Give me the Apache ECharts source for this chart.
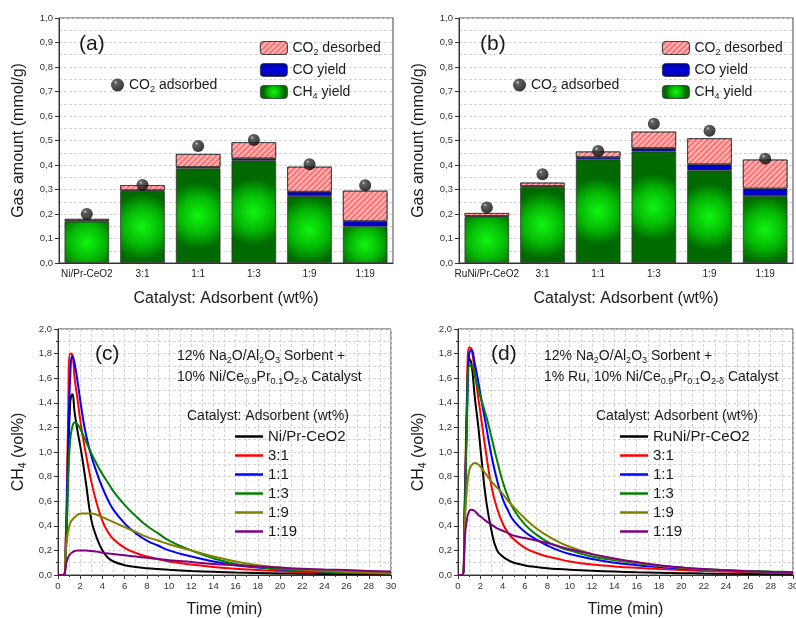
<!DOCTYPE html>
<html>
<head>
<meta charset="utf-8">
<script src="https://cdn.jsdelivr.net/npm/echarts@6/dist/echarts.min.js"></script>
<style>
  html, body { margin: 0; background: #fff; }
  #chart { width: 796px; height: 618px; }
</style>
</head>
<body>
<div id="chart"></div>
<script>
// bar panels (a) and (b)
const catsA = ['Ni/Pr-CeO2', '3:1', '1:1', '1:3', '1:9', '1:19'];
const ch4A = [0.169, 0.294, 0.386, 0.418, 0.273, 0.148];
const coA = [0.003, 0.003, 0.006, 0.009, 0.018, 0.023];
const desA = [0.008, 0.021, 0.053, 0.066, 0.102, 0.124];
const adsA = [0.2, 0.318, 0.478, 0.502, 0.403, 0.317];

const catsB = ['RuNi/Pr-CeO2', '3:1', '1:1', '1:3', '1:9', '1:19'];
const ch4B = [0.188, 0.311, 0.423, 0.455, 0.378, 0.274];
const coB = [0.004, 0.003, 0.009, 0.014, 0.025, 0.03];
const desB = [0.012, 0.014, 0.023, 0.067, 0.106, 0.118];
const adsB = [0.227, 0.362, 0.457, 0.568, 0.54, 0.426];

// line panels (c) and (d), CH4 vol% vs time (min)
const timeC = [0, 0.5, 0.7, 0.9, 1.1, 1.3, 1.5, 1.8, 2.1, 2.5, 3, 3.5, 4, 4.5, 5, 6, 7, 8, 9, 10, 12, 14, 16, 18, 20, 22, 24, 26, 28, 30];
const blackC = [0, 0, 0.15, 0.8, 1.4, 1.47, 1.32, 1.15, 1.0, 0.76, 0.45, 0.3, 0.2, 0.14, 0.11, 0.08, 0.065, 0.055, 0.048, 0.042, 0.033, 0.026, 0.02, 0.016, 0.013, 0.011, 0.009, 0.008, 0.007, 0.006];
const redC = [0, 0, 0.3, 1.2, 1.8, 1.79, 1.6, 1.4, 1.2, 0.99, 0.76, 0.58, 0.44, 0.35, 0.29, 0.22, 0.18, 0.15, 0.13, 0.11, 0.085, 0.065, 0.05, 0.04, 0.03, 0.025, 0.02, 0.017, 0.015, 0.012];
const blueC = [0, 0, 0.25, 1.0, 1.62, 1.78, 1.72, 1.55, 1.36, 1.15, 0.97, 0.83, 0.71, 0.61, 0.53, 0.42, 0.34, 0.28, 0.24, 0.2, 0.15, 0.11, 0.08, 0.06, 0.045, 0.035, 0.028, 0.022, 0.018, 0.015];
const greenC = [0, 0, 0.2, 0.75, 1.1, 1.21, 1.24, 1.22, 1.17, 1.09, 0.99, 0.9, 0.82, 0.75, 0.68, 0.57, 0.48, 0.4, 0.34, 0.28, 0.2, 0.135, 0.09, 0.065, 0.048, 0.036, 0.027, 0.021, 0.016, 0.012];
const oliveC = [0, 0, 0.2, 0.35, 0.42, 0.45, 0.47, 0.49, 0.5, 0.5, 0.5, 0.49, 0.47, 0.45, 0.43, 0.39, 0.35, 0.31, 0.28, 0.25, 0.2, 0.15, 0.11, 0.08, 0.06, 0.045, 0.035, 0.025, 0.02, 0.015];
const purpleC = [0, 0, 0.08, 0.14, 0.17, 0.185, 0.195, 0.2, 0.2, 0.2, 0.195, 0.19, 0.18, 0.175, 0.17, 0.16, 0.15, 0.14, 0.13, 0.12, 0.105, 0.09, 0.08, 0.07, 0.06, 0.05, 0.045, 0.04, 0.033, 0.028];

const timeD = [0, 0.4, 0.6, 0.8, 1.0, 1.2, 1.5, 1.8, 2.1, 2.5, 3, 3.5, 4, 4.5, 5, 6, 7, 8, 9, 10, 12, 14, 16, 18, 20, 22, 24, 26, 28, 30];
const blackD = [0, 0, 0.5, 1.3, 1.76, 1.72, 1.45, 1.22, 0.95, 0.62, 0.36, 0.2, 0.15, 0.12, 0.1, 0.078, 0.065, 0.055, 0.048, 0.043, 0.035, 0.028, 0.022, 0.018, 0.015, 0.012, 0.01, 0.008, 0.007, 0.006];
const redD = [0, 0, 0.6, 1.45, 1.85, 1.84, 1.65, 1.45, 1.26, 1.0, 0.72, 0.54, 0.42, 0.34, 0.29, 0.22, 0.18, 0.15, 0.13, 0.11, 0.085, 0.07, 0.058, 0.048, 0.04, 0.033, 0.028, 0.022, 0.018, 0.015];
const blueD = [0, 0, 0.5, 1.35, 1.8, 1.83, 1.72, 1.58, 1.42, 1.22, 0.97, 0.77, 0.62, 0.52, 0.44, 0.35, 0.29, 0.24, 0.2, 0.17, 0.13, 0.1, 0.08, 0.065, 0.052, 0.043, 0.035, 0.03, 0.025, 0.02];
const greenD = [0, 0, 0.45, 1.25, 1.7, 1.7, 1.62, 1.52, 1.42, 1.3, 1.12, 0.93, 0.76, 0.63, 0.53, 0.41, 0.33, 0.27, 0.23, 0.2, 0.15, 0.12, 0.095, 0.075, 0.06, 0.048, 0.04, 0.033, 0.028, 0.025];
const oliveD = [0, 0, 0.4, 0.7, 0.85, 0.89, 0.91, 0.9, 0.87, 0.82, 0.76, 0.71, 0.66, 0.6, 0.55, 0.46, 0.38, 0.32, 0.27, 0.23, 0.17, 0.13, 0.1, 0.075, 0.058, 0.045, 0.035, 0.028, 0.022, 0.018];
const purpleD = [0, 0, 0.3, 0.45, 0.52, 0.53, 0.52, 0.49, 0.47, 0.44, 0.41, 0.38, 0.36, 0.34, 0.32, 0.3, 0.28, 0.26, 0.235, 0.21, 0.17, 0.135, 0.105, 0.08, 0.062, 0.048, 0.038, 0.03, 0.025, 0.02];

const lineNamesC = ['Ni/Pr-CeO2', '3:1', '1:1', '1:3', '1:9', '1:19'];
const lineNamesD = ['RuNi/Pr-CeO2', '3:1', '1:1', '1:3', '1:9', '1:19'];
const lineColors = ['#000000', '#ff0000', '#0000ff', '#008000', '#808000', '#800080'];

const FONT = 'Liberation Sans, Arial, sans-serif';
const TXT = '#1a1a1a';

const comma = (v) => v.toFixed(1).replace('.', ',');

// rich text styles for subscripts
const richText = (size) => ({
  n: { fontSize: size, lineHeight: 18, color: TXT, fontFamily: FONT },
  s: { fontSize: size * 0.65, lineHeight: 9, padding: [9, 0, 0, 0], color: TXT, fontFamily: FONT },
});

const legendLabels = {
  'CO2 desorbed': '{n|CO}{s|2}{n| desorbed}',
  'CO yield': '{n|CO yield}',
  'CH4 yield': '{n|CH}{s|4}{n| yield}',
  'CO2 adsorbed': '{n|CO}{s|2}{n| adsorbed}',
};

const grids = [
  { left: 59, top: 18, width: 334, height: 245 },
  { left: 459, top: 18, width: 334, height: 245 },
  { left: 58, top: 329, width: 333, height: 246 },
  { left: 458, top: 329, width: 335, height: 246 },
].map((g) => ({ ...g, show: true, borderColor: '#444', borderWidth: 1, outerBoundsMode: 'none', containLabel: false }));

const dashed = { show: true, lineStyle: { color: '#d4d4d4', type: [3, 2], width: 1 } };

const barXAxis = (idx, cats) => ({
  type: 'category',
  gridIndex: idx,
  data: cats,
  axisLine: { lineStyle: { color: '#333' } },
  axisTick: { alignWithLabel: true, length: 4, lineStyle: { color: '#333' } },
  axisLabel: { interval: 0, fontSize: 10, color: TXT, fontFamily: FONT, margin: 6 },
  name: 'Catalyst: Adsorbent (wt%)',
  nameLocation: 'middle',
  nameGap: 28,
  nameTextStyle: { fontSize: 16, color: TXT, fontFamily: FONT },
});

const barYAxis = (idx) => ({
  type: 'value',
  gridIndex: idx,
  min: 0,
  max: 1,
  interval: 0.1,
  axisLine: { show: true, lineStyle: { color: '#333' } },
  axisTick: { show: true, length: 4, lineStyle: { color: '#333' } },
  axisLabel: { fontSize: 9.5, color: '#333', fontFamily: FONT, formatter: comma, margin: 6 },
  splitLine: dashed,
  minorTick: { show: false, splitNumber: 2 },
  minorSplitLine: dashed,
  name: 'Gas amount (mmol/g)',
  nameLocation: 'middle',
  nameGap: 32,
  nameTextStyle: { fontSize: 16, color: TXT, fontFamily: FONT },
});

const lineXAxis = (idx) => ({
  type: 'value',
  gridIndex: idx,
  min: 0,
  max: 30,
  interval: 2,
  axisLine: { lineStyle: { color: '#333' } },
  axisTick: { length: 4, lineStyle: { color: '#333' } },
  minorTick: { show: true, splitNumber: 2, length: 2, lineStyle: { color: '#333' } },
  axisLabel: { fontSize: 9.5, color: '#333', fontFamily: FONT, margin: 6 },
  splitLine: dashed,
  minorSplitLine: dashed,
  name: 'Time (min)',
  nameLocation: 'middle',
  nameGap: 27,
  nameTextStyle: { fontSize: 16, color: TXT, fontFamily: FONT },
});

const lineYAxis = (idx) => ({
  type: 'value',
  gridIndex: idx,
  min: 0,
  max: 2,
  interval: 0.2,
  axisLine: { show: true, lineStyle: { color: '#333' } },
  axisTick: { show: true, length: 4, lineStyle: { color: '#333' } },
  minorTick: { show: true, splitNumber: 2, length: 2, lineStyle: { color: '#333' } },
  axisLabel: { fontSize: 9.5, color: '#333', fontFamily: FONT, formatter: comma, margin: 6 },
  splitLine: dashed,
  minorSplitLine: dashed,
  name: '{n|CH}{s|4}{n| (vol%)}',
  nameLocation: 'middle',
  nameGap: 30,
  nameTextStyle: { rich: richText(16) },
});

const greenFill = {
  type: 'radial', x: 0.5, y: 0.5, r: 0.75,
  colorStops: [{ offset: 0, color: '#10f510' }, { offset: 0.55, color: '#05b905' }, { offset: 1, color: '#006a00' }],
};
const blueFill = {
  type: 'linear', x: 0, y: 0, x2: 0, y2: 1,
  colorStops: [{ offset: 0, color: '#00008a' }, { offset: 0.5, color: '#0000e6' }, { offset: 1, color: '#00008a' }],
};
const ballFill = {
  type: 'radial', x: 0.36, y: 0.3, r: 0.75,
  colorStops: [{ offset: 0, color: '#d0d0d0' }, { offset: 0.18, color: '#3a3a3a' }, { offset: 1, color: '#000' }],
};
const hatch = {
  color: '#ff7070',
  decal: { symbol: 'rect', dashArrayX: [1, 0], dashArrayY: [2, 2], rotation: -Math.PI / 4, color: 'rgba(255,255,255,0.5)' },
};

const barSeries = (idx, ch4, co, des, ads) => {
  const border = { borderColor: '#333', borderWidth: 0.8 };
  const base = { type: 'bar', stack: 'p' + idx, xAxisIndex: idx, yAxisIndex: idx, barWidth: '80%' };
  return [
    { ...base, name: 'CH4 yield', data: ch4, itemStyle: { color: greenFill, ...border } },
    { ...base, name: 'CO yield', data: co, itemStyle: { color: blueFill, ...border } },
    { ...base, name: 'CO2 desorbed', data: des, itemStyle: { ...hatch, ...border } },
    {
      type: 'scatter', name: 'CO2 adsorbed', xAxisIndex: idx, yAxisIndex: idx, data: ads,
      symbolSize: 12, itemStyle: { color: ballFill }, z: 5,
    },
  ];
};

const lineSeries = (idx, names, times, sets) => sets.map((vals, i) => ({
  type: 'line',
  name: names[i],
  xAxisIndex: idx,
  yAxisIndex: idx,
  showSymbol: false,
  symbol: 'none',
  smooth: 0.5,
  lineStyle: { color: lineColors[i], width: 2 },
  itemStyle: { color: lineColors[i] },
  data: times.map((t, j) => [t, vals[j]]),
}));

const barLegend = (left, top) => ({
  data: ['CO2 desorbed', 'CO yield', 'CH4 yield'],
  left, top,
  orient: 'vertical',
  itemWidth: 27,
  itemHeight: 13,
  itemGap: 6,
  selectedMode: false,
  itemStyle: { borderColor: '#333', borderWidth: 0.8 },
  formatter: (n) => legendLabels[n],
  textStyle: { rich: richText(14) },
});

const dotLegend = (left, top) => ({
  data: ['CO2 adsorbed'],
  left, top,
  icon: 'circle',
  itemWidth: 13,
  itemHeight: 13,
  selectedMode: false,
  formatter: (n) => legendLabels[n],
  textStyle: { rich: richText(14) },
});

const lineLegend = (names, left, top) => ({
  data: names,
  left, top,
  orient: 'vertical',
  icon: 'rect',
  itemWidth: 28,
  itemHeight: 2.5,
  itemGap: 4,
  selectedMode: false,
  textStyle: { fontSize: 15, color: TXT, fontFamily: FONT, lineHeight: 14 },
});

const label = (text, left, top, size) => ({
  text, left, top,
  textStyle: { fontSize: size, fontWeight: 'normal', color: TXT, fontFamily: FONT, rich: richText(size) },
});

const chart = echarts.init(document.getElementById('chart'), null, { renderer: 'canvas' });

chart.setOption({
  animation: false,
  backgroundColor: '#fff',
  grid: grids,
  xAxis: [barXAxis(0, catsA), barXAxis(1, catsB), lineXAxis(2), lineXAxis(3)],
  yAxis: [barYAxis(0), barYAxis(1), lineYAxis(2), lineYAxis(3)],
  legend: [
    barLegend(255, 34),
    dotLegend(106, 71),
    barLegend(657, 34),
    dotLegend(508, 71),
    lineLegend(lineNamesC, 230, 424),
    lineLegend(lineNamesD, 615, 424),
  ],
  title: [
    label('(a)', 74, 29, 21),
    label('(b)', 475, 29, 21),
    label('(c)', 90, 339, 21),
    label('(d)', 486, 339, 21),
    label('{n|12% Na}{s|2}{n|O/Al}{s|2}{n|O}{s|3}{n| Sorbent +}', 172, 342, 14),
    label('{n|10% Ni/Ce}{s|0.9}{n|Pr}{s|0.1}{n|O}{s|2-δ}{n| Catalyst}', 172, 363, 14),
    label('{n|Catalyst: Adsorbent (wt%)}', 182, 402, 14),
    label('{n|12% Na}{s|2}{n|O/Al}{s|2}{n|O}{s|3}{n| Sorbent +}', 539, 342, 14),
    label('{n|1% Ru, 10% Ni/Ce}{s|0.9}{n|Pr}{s|0.1}{n|O}{s|2-δ}{n| Catalyst}', 539, 363, 14),
    label('{n|Catalyst: Adsorbent (wt%)}', 591, 402, 14),
  ],
  series: [
    ...barSeries(0, ch4A, coA, desA, adsA),
    ...barSeries(1, ch4B, coB, desB, adsB),
    ...lineSeries(2, lineNamesC, timeC, [blackC, redC, blueC, greenC, oliveC, purpleC]),
    ...lineSeries(3, lineNamesD, timeD, [blackD, redD, blueD, greenD, oliveD, purpleD]),
  ],
});
</script>
</body>
</html>
